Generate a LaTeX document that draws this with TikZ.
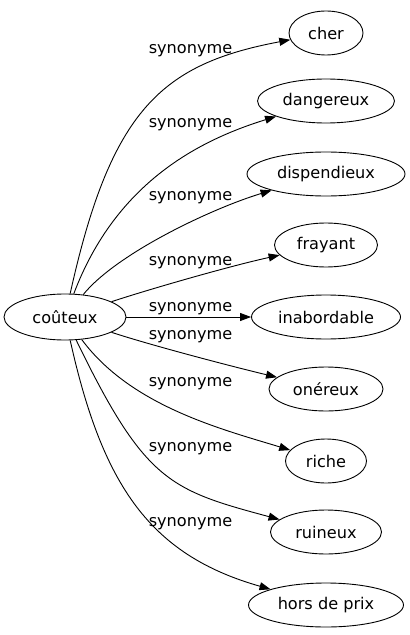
\documentclass[tikz,border=0pt]{standalone}
\usepackage{fontspec}
\setmainfont{DejaVu Sans}
\usetikzlibrary{arrows.meta,shapes.geometric}

\begin{document}
\begin{tikzpicture}[x=1bp,y=-1bp,>={Triangle[length=11bp,width=8bp]},line width=0.9bp,
    word/.style={draw,ellipse,inner sep=0pt,minimum height=44bp,font=\fontsize{16.2}{19}\selectfont},
    lab/.style={anchor=base,inner sep=0pt,font=\fontsize{16.2}{19}\selectfont}]
        \useasboundingbox (0,0) rectangle (409,635);
        \node[word,minimum width=122bp,minimum height=46bp] (cout) at (65,317) {coûteux};
        \foreach \n/\w/\y/\t in {cher/74/33/cher,dang/137/101/dangereux,disp/158/174/dispendieux,
            fray/103/245/frayant,inab/149/317/inabordable,oner/114/389/onéreux,
            riche/81/461/riche,ruin/111/532/ruineux,hors/155/605/hors de prix}
          {\node[word,minimum width=\w bp] (\n) at (326,\y) {\t};}
        \foreach \n/\ax/\ay/\bx/\by in {cher/111/109/162/64,dang/116/182/200/140,disp/117/253/213/208,
            fray/150/289/230/266,oner/150/345/230/366,riche/131/406/221/429,
            ruin/145/482/170/490,hors/102.5/485.5/150/555}
          {\draw[->] (cout) .. controls (\ax,\ay) and (\bx,\by) .. (\n);}
        \draw[->] (cout) -- (inab);
        \foreach \y [count=\i] in {53.3,128,200.7,265,311.7,339,386.7,451.7,526}
          {\node[lab] (s\i) at (190.5,\y) {synonyme};}
      \end{tikzpicture}
\end{document}
